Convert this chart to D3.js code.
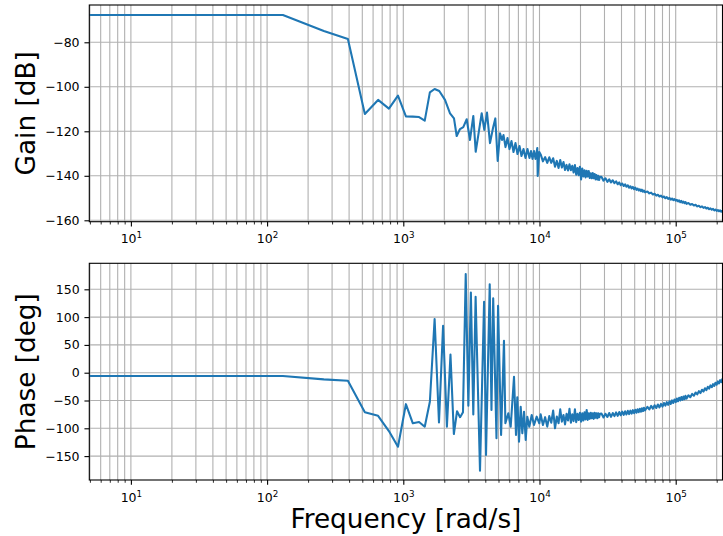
<!DOCTYPE html>
<html>
<head>
<meta charset="utf-8">
<script src="https://d3js.org/d3.v7.min.js"></script>
<style>
  body { margin: 0; background: white; }
  svg text { font-family: "DejaVu Sans", sans-serif; fill: black; }
  .grid line { stroke: #b0b0b0; stroke-width: 1.1; }
  .tick line { stroke: black; }
</style>
</head>
<body>
<svg id="bode" width="723" height="536"></svg>
<script>

// low-frequency points (rad/s) read one by one, gain in dB
var lowGainFreq = [4.95, 130.6, 261, 392, 522, 653, 784, 914, 1045, 1175,
  1306, 1437, 1567, 1698, 1837, 2024, 2203, 2356, 2466, 2608,
  2757, 2921, 3088, 3266, 3401, 3554, 3764, 3933, 4117, 4331,
  4557, 4738, 4933, 5129, 5306, 5442, 5629, 5823, 6022, 6229,
  6444, 6665, 6894, 7131, 7376, 7630, 7892, 8164, 8444, 8662,
  8885, 9113, 9346, 9634, 9700, 9966];
var lowGain = [-67.7, -67.7, -74.9, -78.5, -112.2, -105.9, -109.8, -104.0, -113.3, -113.4,
  -113.6, -115.2, -102.5, -101.0, -101.9, -105.9, -111.9, -114.2, -122.1, -119.0,
  -118.1, -114.6, -123.9, -113.1, -129.2, -121.7, -111.9, -119.4, -111.6, -125.3,
  -118.5, -114.2, -133.3, -120.9, -123.9, -121.7, -127.1, -123.0, -128.0, -124.4,
  -129.3, -125.3, -130.2, -126.6, -131.1, -128.0, -132.0, -128.0, -132.0, -128.9,
  -132.4, -128.9, -132.4, -127.5, -140.1, -129.3];

// low-frequency phase points, deg
var lowPhaseFreq = [4.95, 130.6, 261, 392, 522, 653, 784, 914, 1045, 1175,
  1306, 1437, 1567, 1698, 1828, 1959, 2090, 2220, 2351, 2481,
  2612, 2743, 2873, 3004, 3134, 3265, 3396, 3657, 3918, 4049,
  4310, 4440, 4571, 4832, 4963, 5224, 5485, 5616, 5902, 6145,
  6499, 6722, 6871, 7072, 7278, 7478, 7697, 7920, 8136, 8417,
  8766, 9113, 9537, 9966];
var lowPhase = [-5.9, -5.9, -12.0, -14.4, -71.2, -77.6, -105, -133.1, -56.6, -91.0,
  -88.6, -97.1, -52.2, 96.6, -89.5, 84.5, -97.1, 32.5, -110.3, -69.2,
  -80.0, -71.0, 177.3, -59.5, 144.4, -75, 136.7, -176.3, 127.7, -148,
  159, -67.1, 133.8, -118, 120.5, -112.1, 57.3, -91, -73, -97.1,
  -7.2, -112.1, -44.2, -124.1, -61.2, -109.0, -70.1, -121.0, -79.1, -97.1,
  -76.1, -94.1, -79.1, -91.0];

// dense high-frequency part (the noisy band), shared frequencies
var highFreq = [10200, 10600, 11000, 11400, 11800, 12200, 12600, 13000, 13400, 13800,
  14200, 14600, 15000, 15400, 15800, 16200, 16600, 17000, 17400, 17800,
  18200, 18600, 19000, 19400, 19800, 20200, 20600, 21000, 21400, 21800,
  22200, 22600, 23000, 23400, 23800, 24200, 24600, 25000, 25400, 25800,
  26200, 26600, 27000, 27400, 27800,
  28500, 29500, 30500, 31500, 32500, 33500, 34500, 35500, 36500, 37500,
  38500, 39500, 40500, 41500, 42500, 43500, 44500, 45500, 46500, 47500,
  48500, 49500, 50500, 51500, 52500, 53500, 54500, 55500, 56500, 57500,
  58500, 59500,
  62000, 64000, 66000, 68000, 70000, 72000, 74000, 76000, 78000, 80000,
  82000, 84000, 86000, 88000, 90000, 92000, 94000, 96000, 98000, 100000,
  102000, 104000, 106000, 108000, 110000, 112000, 114000, 116000, 118000, 120000,
  124000, 128000, 132000, 136000, 140000, 144000, 148000, 152000, 156000, 160000,
  164000, 168000, 172000, 176000, 180000, 184000, 188000, 192000, 196000, 200000,
  204000, 208000, 212000, 216000, 220000, 220600];
var highGain = [-130.4, -133.5, -131.6, -134.2, -131.7, -134.2, -132.1, -135.9, -133.3, -136.5,
  -132.9, -136.3, -133.8, -137.4, -135.1, -137.6, -134.8, -137.5, -135.5, -138.5,
  -135.2, -139.5, -136.5, -139.7, -135.9, -141.6, -136.7, -140.3, -137.5, -140.7,
  -137.7, -140.3, -137.9, -141.0, -138.9, -141.1, -138.8, -141.1, -139.2, -141.6,
  -139.7, -141.7, -140.0, -141.9, -140.4,
  -140.45, -142.2, -141.1, -142.7, -141.6, -143.0, -142.0, -143.3, -142.5, -143.8,
  -143.0, -144.2, -143.5, -144.6, -143.85, -144.9, -144.25, -145.35, -144.7, -145.65,
  -145.0, -146.0, -145.3, -146.3, -145.75, -146.6, -146.05, -146.85, -146.25, -147.15,
  -146.6, -147.35,
  -147.1, -147.9, -147.55, -148.4, -148.05, -148.9, -148.5, -149.3, -148.9, -149.7,
  -149.3, -150.1, -149.6, -150.4, -149.9, -150.7, -150.2, -150.95, -150.5, -151.2,
  -150.8, -151.5, -151.05, -151.8, -151.3, -152.05, -151.6, -152.3, -151.8, -152.6,
  -152.25, -153.0, -152.65, -153.35, -153.05, -153.75, -153.45, -154.1, -153.75, -154.4,
  -154.05, -154.7, -154.35, -155.0, -154.65, -155.25, -154.9, -155.55, -155.15, -155.8,
  -155.4, -155.95, -155.55, -156.15, -155.75, -156.0];
var highPhase = [-75, -94, -80, -97, -78, -90, -68, -100, -79, -91,
  -66, -88, -76, -93, -74, -86, -65, -90, -75, -87,
  -66, -89, -74, -85, -72, -88, -73, -86, -71, -84,
  -67, -85, -73, -83, -72, -82, -73, -83, -72, -81,
  -73, -82, -73, -80, -74,
  -73.5, -80.5, -73.8, -79.6, -72.5, -79.5, -72.6, -78.0, -71.5, -77.6,
  -70.8, -76.5, -70.0, -76.0, -69.4, -75.2, -68.6, -74.5, -68.2, -73.6,
  -67.3, -72.8, -66.6, -71.9, -65.8, -71.0, -65.0, -70.1, -64.0, -69.1,
  -63.0, -68.0,
  -61.3, -66.0, -59.7, -64.7, -58.5, -63.5, -57.3, -62.4, -56.1, -60.9,
  -54.5, -59.2, -52.9, -57.8, -51.4, -56.2, -49.8, -54.5, -48.1, -52.9,
  -46.5, -51.4, -45.0, -49.9, -43.8, -48.8, -42.7, -47.7, -41.5, -46.6,
  -40.7, -44.0, -38.1, -41.4, -35.6, -39.0, -33.2, -36.6, -30.6, -33.9,
  -27.9, -31.3, -25.4, -28.8, -22.9, -26.2, -20.5, -23.8, -18.0, -21.4,
  -15.7, -19.2, -13.4, -16.9, -11.6, -13.6];

var majorX = [10, 100, 1000, 10000, 100000];
var gainTicks = [-160, -140, -120, -100, -80];
var phaseTicks = [-150, -100, -50, 0, 50, 100, 150];

var svg = d3.select('#bode');
var left = 89.3, right = 722.5;

var x = d3.scaleLog().domain([4.95, 220600]).range([left, right]);

// minor ticks 2..9 x 10^n inside the domain
var minorX = [];
[1, 10, 100, 1000, 10000, 100000].forEach(function (p) {
  for (var j = 2; j <= 9; j++) {
    var v = j * p;
    if (v >= x.domain()[0] && v <= x.domain()[1]) minorX.push(v);
  }
});

function toPoints(f1, v1, f2, v2) {
  var pts = f1.map(function (f, i) { return [f, v1[i]]; });
  return pts.concat(f2.map(function (f, i) { return [f, v2[i]]; }));
}

function minus(d) { return d < 0 ? '\u2212' + Math.abs(d) : String(d); }

function panel(id, top, bottom, y, yTicks, pts, label) {
  var g = svg.append('g');

  g.append('clipPath').attr('id', 'clip-' + id)
    .append('rect').attr('x', left).attr('y', top)
    .attr('width', right - left).attr('height', bottom - top);

  var gridV = g.append('g').attr('class', 'grid');
  gridV.selectAll('line').data(majorX.concat(minorX)).join('line')
    .attr('x1', function (d) { return x(d); }).attr('x2', function (d) { return x(d); })
    .attr('y1', top).attr('y2', bottom);
  var gridH = g.append('g').attr('class', 'grid');
  gridH.selectAll('line').data(yTicks).join('line')
    .attr('x1', left).attr('x2', right)
    .attr('y1', function (d) { return y(d); }).attr('y2', function (d) { return y(d); });

  var line = d3.line()
    .x(function (d) { return x(d[0]); })
    .y(function (d) { return y(d[1]); });

  g.append('path').datum(pts)
    .attr('clip-path', 'url(#clip-' + id + ')')
    .attr('fill', 'none')
    .attr('stroke', '#1f77b4')
    .attr('stroke-width', 2.08)
    .attr('stroke-linejoin', 'round')
    .attr('d', line);

  g.append('rect')
    .attr('x', left).attr('y', top)
    .attr('width', right - left).attr('height', bottom - top)
    .attr('fill', 'none').attr('stroke', 'black').attr('stroke-width', 1.1);

  // x axis major
  var xa = g.append('g').attr('transform', 'translate(0,' + bottom + ')')
    .call(d3.axisBottom(x).tickValues(majorX).tickSize(4.86).tickPadding(4.86));
  xa.select('.domain').remove();
  xa.attr('font-family', null).attr('font-size', 12.5);
  xa.selectAll('.tick line').attr('stroke-width', 1.1);
  xa.selectAll('.tick text').each(function (d) {
    var t = d3.select(this).text('').attr('dy', null).attr('y', 21.8);
    t.append('tspan').text('10');
    t.append('tspan').attr('dy', -5.2).attr('font-size', 8.75)
      .text(Math.round(Math.log10(d)));
  });

  // x axis minor
  var xm = g.append('g').attr('transform', 'translate(0,' + bottom + ')')
    .call(d3.axisBottom(x).tickValues(minorX).tickSize(2.78).tickFormat(''));
  xm.select('.domain').remove();
  xm.selectAll('.tick line').attr('stroke-width', 0.83);

  // y axis
  var ya = g.append('g').attr('transform', 'translate(' + left + ',0)')
    .call(d3.axisLeft(y).tickValues(yTicks).tickSize(4.86).tickPadding(4.86).tickFormat(minus));
  ya.select('.domain').remove();
  ya.attr('font-family', null).attr('font-size', 12.5);
  ya.selectAll('.tick line').attr('stroke-width', 1.1);

  svg.append('text')
    .attr('transform', 'translate(35,' + ((top + bottom) / 2) + ') rotate(-90)')
    .attr('text-anchor', 'middle')
    .attr('font-size', 26.3)
    .text(label);
}

var gainY = d3.scaleLinear().domain([-160.63, -63.24]).range([221.7, 5]);
var phaseY = d3.scaleLinear().domain([-193.0, 196.8]).range([480, 263.3]);

panel('gain', 5, 221.7, gainY, gainTicks,
  toPoints(lowGainFreq, lowGain, highFreq, highGain), 'Gain [dB]');
panel('phase', 263.3, 480, phaseY, phaseTicks,
  toPoints(lowPhaseFreq, lowPhase, highFreq, highPhase), 'Phase [deg]');

svg.append('text')
  .attr('x', (left + right) / 2)
  .attr('y', 527.5)
  .attr('text-anchor', 'middle')
  .attr('font-size', 26.3)
  .text('Frequency [rad/s]');

</script>
</body>
</html>
